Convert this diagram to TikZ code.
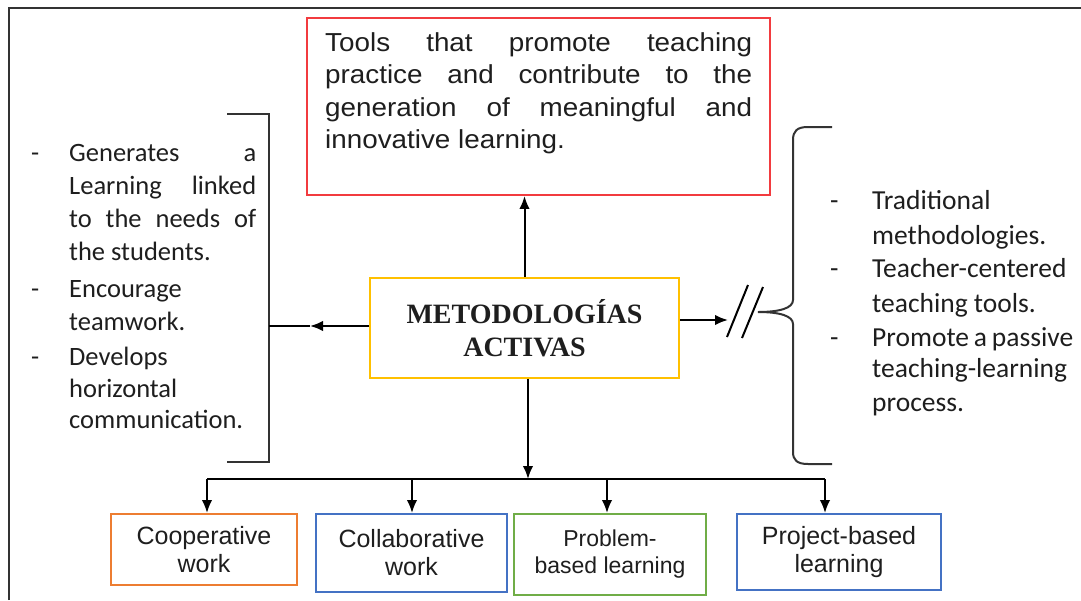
\documentclass[tikz,border=0pt]{standalone}
\usepackage{fontspec}
\setmainfont{Liberation Sans}
\newfontfamily\widefont[FakeStretch=1.07]{Liberation Sans}
\newfontfamily\calfont{Carlito}
\newfontfamily\serfont{Liberation Serif}
\usetikzlibrary{arrows.meta}
\definecolor{cred}{HTML}{F23B3F}
\definecolor{cyel}{HTML}{FFC000}
\definecolor{corg}{HTML}{ED7D31}
\definecolor{cblu}{HTML}{4472C4}
\definecolor{cgrn}{HTML}{70AD47}
\definecolor{cbrk}{HTML}{333333}
\definecolor{ctxt}{HTML}{1E1E1E}
\begin{document}
\begin{tikzpicture}[x=1pt,y=-1pt,
  box/.style={draw, line width=1.9pt, inner sep=0pt, align=center, text=ctxt},
  conn/.style={line width=2pt, black},
  arr/.style={conn, -{Latex[length=13pt,width=10.5pt]}},
  brk/.style={line width=2pt, cbrk},
  ltxt/.style={inner sep=0pt, anchor=base west, text=ctxt, font=\calfont\fontsize{26.5}{32}\selectfont},
  rtxt/.style={inner sep=0pt, anchor=base west, text=ctxt, font=\calfont\fontsize{27.5}{34}\selectfont},
  ttxt/.style={inner sep=0pt, anchor=base west, text=ctxt, font=\widefont\fontsize{26}{32}\selectfont},
  btxt/.style={font=\fontsize{25}{28}\selectfont},
]
\useasboundingbox (0,0) rectangle (1081,600);
% frame
\draw[line width=2.5pt, black!80] (9,600) -- (9,8) -- (1081,8);

% top red box
\node[box, draw=cred, minimum width=463pt, minimum height=177pt] (red) at (538.5,106.5) {};
\node[ttxt] (r1) at (325,51) {\makebox[427pt][s]{Tools that promote teaching}};
\node[ttxt] (r2) at (325,83) {\makebox[427pt][s]{practice and contribute to the}};
\node[ttxt] (r3) at (325,116) {\makebox[427pt][s]{generation of meaningful and}};
\node[ttxt] (r4) at (325,148) {innovative learning.};

% central yellow box
\node[box, draw=cyel, minimum width=309pt, minimum height=100pt,
      font=\serfont\bfseries\fontsize{28}{33}\selectfont] (mid) at (524.5,328) {METODOLOGÍAS\\ACTIVAS};

% left bracket and text
\draw[brk] (227,114) -- (269,114) -- (269,462) -- (227,462);
\coordinate (lstub) at (310,326);
\draw[conn] (269,326) -- (lstub);
\draw[arr] ([yshift=2pt]mid.west) -- (lstub);

\node[ltxt] (ld1) at (31,161) {-};
\node[ltxt] (l1) at (69,161) {\makebox[187pt][s]{Generates a}};
\node[ltxt] (l2) at (69,194) {\makebox[187pt][s]{Learning linked}};
\node[ltxt] (l3) at (69,227) {\makebox[187pt][s]{to the needs of}};
\node[ltxt] (l4) at (69,260) {the students.};
\node[ltxt] (ld2) at (31,297) {-};
\node[ltxt] (l5) at (69,297) {Encourage};
\node[ltxt] (l6) at (69,330) {teamwork.};
\node[ltxt] (ld3) at (31,365) {-};
\node[ltxt] (l7) at (69,365) {Develops};
\node[ltxt] (l8) at (69,397) {horizontal};
\node[ltxt] (l9) at (69,428) {communication.};

% right brace and text
\draw[brk] (832,127) -- (808,127) .. controls (797,127) and (793,131) .. (793,140)
  -- (793,300) .. controls (793,308) and (780,312) .. (758,312)
  .. controls (780,312) and (793,316) .. (793,324)
  -- (793,452) .. controls (793,460) and (797,464) .. (808,464) -- (832,464);
\coordinate (rstub) at (728,320);
\draw[arr] ([yshift=8pt]mid.east) -- (rstub);
\draw[conn] (727,337) -- (748,285);
\draw[conn] (742,338) -- (763,287);

\node[rtxt] (rd1) at (830,209) {-};
\node[rtxt] (t1) at (872,209) {Traditional};
\node[rtxt] (t2) at (872,244) {methodologies.};
\node[rtxt] (rd2) at (830,277) {-};
\node[rtxt] (t3) at (872,277) {Teacher-centered};
\node[rtxt] (t4) at (872,312) {teaching tools.};
\node[rtxt] (rd3) at (830,346) {-};
\node[rtxt] (t5) at (872,346) {\makebox[201pt][s]{Promote a passive}};
\node[rtxt] (t6) at (872,377) {teaching-learning};
\node[rtxt] (t7) at (872,411) {process.};

% upward arrow
\draw[arr] (mid.north) -- (mid.north |- red.south);

% bottom boxes
\node[box, draw=corg, minimum width=186pt, minimum height=71pt, btxt] (coop) at (204,549.5) {Cooperative\\work};
\node[box, draw=cblu, minimum width=191pt, minimum height=78pt, btxt] (coll) at (411.5,553) {Collaborative\\work};
\node[box, draw=cgrn, minimum width=192pt, minimum height=81pt, font=\fontsize{23}{27}\selectfont] (prob) at (610,554.5) {Problem-\\based learning};
\node[box, draw=cblu, minimum width=204pt, minimum height=76pt, btxt] (proj) at (839,552) {Project-based\\learning};

% bus
\coordinate (bmid) at (528,479);
\coordinate (b1) at (207,479);
\coordinate (b2) at (412,479);
\coordinate (b3) at (607,479);
\coordinate (b4) at (825,479);
\draw[arr] ([xshift=3.5pt]mid.south) -- (bmid);
\draw[conn] (b1) -- (b4);
\draw[arr] (b1) -- (b1 |- coop.north);
\draw[arr] (b2) -- (b2 |- coll.north);
\draw[arr] (b3) -- (b3 |- prob.north);
\draw[arr] (b4) -- (b4 |- proj.north);
\end{tikzpicture}
\end{document}
